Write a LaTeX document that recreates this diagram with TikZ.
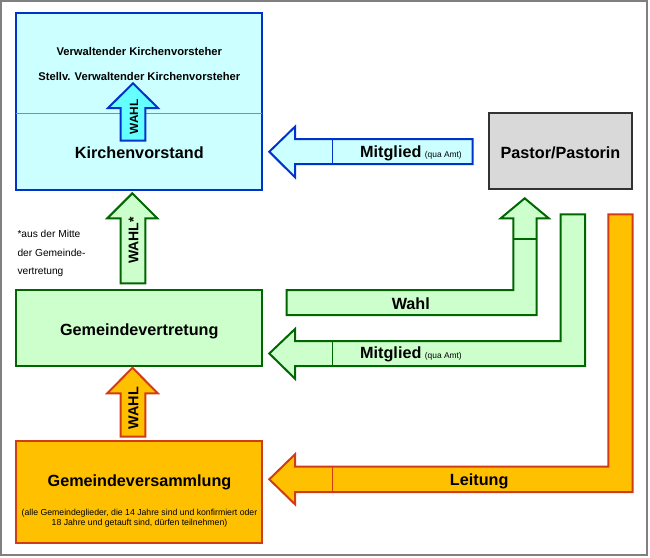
\documentclass[tikz,border=0pt]{standalone}
\usepackage{fontspec}
\setmainfont{Liberation Sans}
\definecolor{framegray}{RGB}{128,128,128}
\definecolor{kvblue}{RGB}{0,51,204}
\definecolor{kvfill}{RGB}{204,255,255}
\definecolor{kvarrow}{RGB}{102,255,255}
\definecolor{kvline}{RGB}{100,150,200}
\definecolor{gdark}{RGB}{0,102,0}
\definecolor{gfill}{RGB}{204,255,204}
\definecolor{ofill}{RGB}{255,192,0}
\definecolor{odark}{RGB}{210,60,20}
\definecolor{pfill}{RGB}{217,217,217}
\definecolor{pdark}{RGB}{50,50,50}
\tikzset{
  boxnode/.style={anchor=north west, inner sep=0, outer sep=0, line width=2pt},
  kvbox/.style={boxnode, draw=kvblue, fill=kvfill},
  gbox/.style={boxnode, draw=gdark, fill=gfill},
  obox/.style={boxnode, draw=odark, fill=ofill},
  pbox/.style={boxnode, draw=pdark, fill=pfill},
  framebox/.style={boxnode, draw=framegray, line width=1.5pt},
  barrow/.style={draw=kvblue, fill=kvfill, line width=2pt, line join=miter},
  carrow/.style={draw=kvblue, fill=kvarrow, line width=2pt, line join=miter},
  garrow/.style={draw=gdark, fill=gfill, line width=2pt, line join=miter},
  oarrow/.style={draw=odark, fill=ofill, line width=2pt, line join=miter},
  big/.style={font=\fontsize{16.2}{19}\selectfont\bfseries, anchor=base, inner sep=0},
  mid/.style={font=\fontsize{11.2}{13}\selectfont\bfseries, anchor=base, inner sep=0},
  small/.style={font=\fontsize{8.7}{10}\selectfont, anchor=base, inner sep=0},
  note/.style={font=\fontsize{10.2}{12}\selectfont, anchor=base west, inner sep=0},
  vtext/.style={rotate=90, inner sep=0, anchor=center}
}
\newcommand{\quaamt}{{\fontsize{8.4}{9}\selectfont\mdseries\hspace{3.5pt}(qua Amt)}}
\begin{document}
\begin{tikzpicture}[x=1pt,y=-1pt]
\useasboundingbox (0,0) rectangle (650,557);
\node[framebox, minimum width=646pt, minimum height=554pt] (frame) at (1,1) {};

% boxes
\node[kvbox, minimum width=246.3pt, minimum height=177.3pt] (kv) at (15.7,12.7) {};
\draw[kvline, line width=0.8pt] (kv.west |- 0,113) -- (kv.east |- 0,113);
\node[pbox, minimum width=143.3pt, minimum height=76pt] (pastor) at (488.7,113.3) {};
\node[gbox, minimum width=246.6pt, minimum height=76pt] (gv) at (15.7,290) {};
\node[obox, minimum width=246.6pt, minimum height=101.7pt] (gvs) at (15.7,441) {};

% inner WAHL arrow (cyan)
\draw[carrow] (120.7,140.7) -- (120.7,108) -- (108,108) -- (133,83.3) -- (158,108) -- (145.3,108) -- (145.3,140.7) -- cycle;
\node[vtext, font=\fontsize{11.9}{13}\selectfont\bfseries] (wahlkv) at (134,116.7) {WAHL};

% blue Mitglied arrow
\draw[barrow] (269.3,151.7) -- (295,126.7) -- (295,139) -- (472.7,139) -- (472.7,164) -- (295,164) -- (295,177.3) -- cycle;
\draw[kvblue, line width=1.5pt] (332.7,139) -- (332.7,164);
\node[big, anchor=base west] (mitkv) at (360,157.5) {Mitglied\quaamt};

% green WAHL* arrow
\draw[garrow] (120.7,283.3) -- (120.7,218.3) -- (107.3,218.3) -- (132.3,193.3) -- (157.3,218.3) -- (145.3,218.3) -- (145.3,283.3) -- cycle;
\node[vtext, font=\fontsize{14}{16}\selectfont\bfseries] (wahlstern) at (133.5,240.5) {WAHL*};

% orange WAHL arrow
\draw[oarrow] (120.7,436.7) -- (120.7,393.3) -- (107.3,393.3) -- (132.5,367.7) -- (157.7,393.3) -- (145.3,393.3) -- (145.3,436.7) -- cycle;
\node[vtext, font=\fontsize{14.4}{16}\selectfont\bfseries] (wahlgv) at (133.5,408.3) {WAHL};

% green Wahl L-arrow to pastor
\draw[garrow] (286.7,290) -- (513.3,290) -- (513.3,218.3) -- (500.7,218.3) -- (524.7,198.3) -- (548.7,218.3) -- (536.7,218.3) -- (536.7,315) -- (286.7,315) -- cycle;
\draw[gdark, line width=1.5pt] (513.3,239) -- (536.7,239);
\node[big] (wahlp) at (410.8,309) {Wahl};

% green Mitglied L-arrow
\draw[garrow] (560.7,214.3) -- (585,214.3) -- (585,366) -- (295,366) -- (295,378.7) -- (269.3,353.5) -- (295,329) -- (295,341) -- (560.7,341) -- cycle;
\draw[gdark, line width=1.5pt] (332.7,341) -- (332.7,366);
\node[big, anchor=base west] (mitgv) at (360,358.3) {Mitglied\quaamt};

% orange Leitung L-arrow
\draw[oarrow] (608.3,214.3) -- (632.7,214.3) -- (632.7,492) -- (295,492) -- (295,504.3) -- (269.3,479.3) -- (295,454.3) -- (295,466.7) -- (608.3,466.7) -- cycle;
\draw[odark, line width=1.5pt] (332.7,466.7) -- (332.7,492);
\node[big] (leitung) at (479.2,485.7) {Leitung};

% texts in boxes
\node[mid] (vkv) at (139.3,55.7) {Verwaltender Kirchenvorsteher};
\node[mid] (svkv) at (139.3,80) {Stellv. Verwaltender Kirchenvorsteher};
\node[big] (kvt) at (139.3,158.3) {Kirchenvorstand};
\node[big] (pt) at (560.5,158) {Pastor/Pastorin};
\node[big] (gvt) at (139.3,335) {Gemeindevertretung};
\node[big] (gvst) at (139.5,486) {Gemeindeversammlung};
\node[small] (gvs1) at (139.5,515.3) {(alle Gemeindeglieder, die 14 Jahre sind und konfirmiert oder};
\node[small] (gvs2) at (139.5,525.5) {18 Jahre und getauft sind, dürfen teilnehmen)};

% note
\node[note] (n1) at (17.3,237.5) {*aus der Mitte};
\node[note] (n2) at (17.3,256) {der Gemeinde-};
\node[note] (n3) at (17.3,274.5) {vertretung};
\end{tikzpicture}
\end{document}
